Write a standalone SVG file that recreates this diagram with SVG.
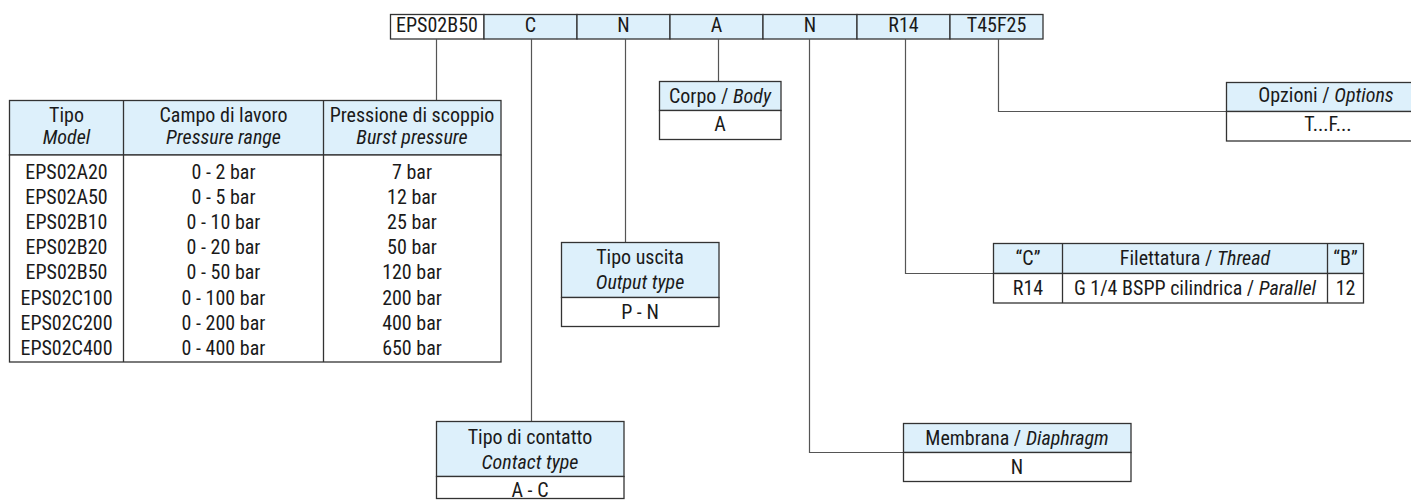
<svg xmlns="http://www.w3.org/2000/svg" width="1411" height="500" viewBox="0 0 1411 500">
<style>
  text { font-family: "Liberation Sans Narrow", "Roboto Condensed", "DejaVu Sans Condensed", "Liberation Sans", sans-serif; font-size: 20px; fill: #1a1a1a; text-anchor: middle; }
  .it { font-style: italic; }
  .hd { fill: #ddf0fb; stroke: #333; stroke-width: 1.3; }
  .bd { fill: #ffffff; stroke: #333; stroke-width: 1.3; }
  .ln { fill: none; stroke: #333; stroke-width: 1.3; }
  .cn { fill: none; stroke: #555; stroke-width: 1.2; }
</style>
<rect width="1411" height="500" fill="#ffffff"/>

<g id="code-bar">
  <rect class="bd" x="390.5" y="14.5" width="93.5" height="24.5"/>
  <rect class="hd" x="484" y="14.5" width="93" height="24.5"/>
  <rect class="hd" x="577" y="14.5" width="93" height="24.5"/>
  <rect class="hd" x="670" y="14.5" width="93" height="24.5"/>
  <rect class="hd" x="763" y="14.5" width="94" height="24.5"/>
  <rect class="hd" x="857" y="14.5" width="93" height="24.5"/>
  <rect class="hd" x="950" y="14.5" width="93" height="24.5"/>
  <text x="437" y="32">EPS02B50</text>
  <text x="530.5" y="32">C</text>
  <text x="623.5" y="32">N</text>
  <text x="716.5" y="32">A</text>
  <text x="810" y="32">N</text>
  <text x="903.5" y="32">R14</text>
  <text x="996.5" y="32">T45F25</text>
</g>

<g id="connectors">
  <polyline class="cn" points="436.5,39 436.5,100"/>
  <polyline class="cn" points="531.5,39 531.5,421"/>
  <polyline class="cn" points="625.5,39 625.5,242"/>
  <polyline class="cn" points="718.5,39 718.5,81"/>
  <polyline class="cn" points="809.5,39 809.5,452.5 903,452.5"/>
  <polyline class="cn" points="905.5,39 905.5,273.5 993,273.5"/>
  <polyline class="cn" points="998.5,39 998.5,111.5 1226,111.5"/>
</g>

<g id="model-table">
  <rect class="hd" x="9.5" y="100.5" width="491.5" height="54.5"/>
  <rect class="bd" x="9.5" y="155" width="491.5" height="207"/>
  <line class="ln" x1="123.5" y1="100.5" x2="123.5" y2="362"/>
  <line class="ln" x1="323.5" y1="100.5" x2="323.5" y2="362"/>
  <text x="66.5" y="122">Tipo</text>
  <text x="66.5" y="144" class="it">Model</text>
  <text x="223.5" y="122">Campo di lavoro</text>
  <text x="223.5" y="144" class="it">Pressure range</text>
  <text x="412" y="122">Pressione di scoppio</text>
  <text x="412" y="144" class="it">Burst pressure</text>
  <text x="66.5" y="178.5">EPS02A20</text>
  <text x="66.5" y="203.7">EPS02A50</text>
  <text x="66.5" y="228.9">EPS02B10</text>
  <text x="66.5" y="254.1">EPS02B20</text>
  <text x="66.5" y="279.3">EPS02B50</text>
  <text x="66.5" y="304.5">EPS02C100</text>
  <text x="66.5" y="329.7">EPS02C200</text>
  <text x="66.5" y="354.9">EPS02C400</text>
  <text x="223.5" y="178.5">0 - 2 bar</text>
  <text x="223.5" y="203.7">0 - 5 bar</text>
  <text x="223.5" y="228.9">0 - 10 bar</text>
  <text x="223.5" y="254.1">0 - 20 bar</text>
  <text x="223.5" y="279.3">0 - 50 bar</text>
  <text x="223.5" y="304.5">0 - 100 bar</text>
  <text x="223.5" y="329.7">0 - 200 bar</text>
  <text x="223.5" y="354.9">0 - 400 bar</text>
  <text x="412" y="178.5">7 bar</text>
  <text x="412" y="203.7">12 bar</text>
  <text x="412" y="228.9">25 bar</text>
  <text x="412" y="254.1">50 bar</text>
  <text x="412" y="279.3">120 bar</text>
  <text x="412" y="304.5">200 bar</text>
  <text x="412" y="329.7">400 bar</text>
  <text x="412" y="354.9">650 bar</text>
</g>

<g id="corpo">
  <rect class="hd" x="659.5" y="81.5" width="121.5" height="29"/>
  <rect class="bd" x="659.5" y="110.5" width="121.5" height="29"/>
  <text x="720" y="102.5">Corpo / <tspan class="it">Body</tspan></text>
  <text x="720" y="131">A</text>
</g>

<g id="opzioni">
  <rect class="hd" x="1226.5" y="82.5" width="204" height="29"/>
  <rect class="bd" x="1226.5" y="111.5" width="204" height="29.5"/>
  <text x="1326" y="102">Opzioni / <tspan class="it">Options</tspan></text>
  <text x="1328" y="131">T...F...</text>
</g>

<g id="tipo-uscita">
  <rect class="hd" x="561.5" y="242.5" width="157.5" height="55"/>
  <rect class="bd" x="561.5" y="297.5" width="157.5" height="29"/>
  <text x="640" y="264">Tipo uscita</text>
  <text x="640" y="289" class="it">Output type</text>
  <text x="640" y="318.5">P - N</text>
</g>

<g id="filettatura">
  <rect class="hd" x="993.5" y="243.5" width="370" height="30"/>
  <rect class="bd" x="993.5" y="273.5" width="370" height="29.5"/>
  <line class="ln" x1="1062.5" y1="243.5" x2="1062.5" y2="303"/>
  <line class="ln" x1="1327.5" y1="243.5" x2="1327.5" y2="303"/>
  <text x="1028" y="264.5">“C”</text>
  <text x="1195" y="264.5">Filettatura / <tspan class="it">Thread</tspan></text>
  <text x="1345.5" y="264.5">“B”</text>
  <text x="1028" y="295">R14</text>
  <text x="1195" y="295">G 1/4 BSPP cilindrica / <tspan class="it">Parallel</tspan></text>
  <text x="1345.5" y="295">12</text>
</g>

<g id="tipo-contatto">
  <rect class="hd" x="436.5" y="421.5" width="187.5" height="55"/>
  <rect class="bd" x="436.5" y="476.5" width="187.5" height="22"/>
  <text x="530" y="443.5">Tipo di contatto</text>
  <text x="530" y="468.5" class="it">Contact type</text>
  <text x="530" y="497">A - C</text>
</g>

<g id="membrana">
  <rect class="hd" x="903.5" y="423.5" width="227.5" height="29"/>
  <rect class="bd" x="903.5" y="452.5" width="227.5" height="29"/>
  <text x="1017" y="445">Membrana / <tspan class="it">Diaphragm</tspan></text>
  <text x="1017" y="473.5">N</text>
</g>
</svg>
